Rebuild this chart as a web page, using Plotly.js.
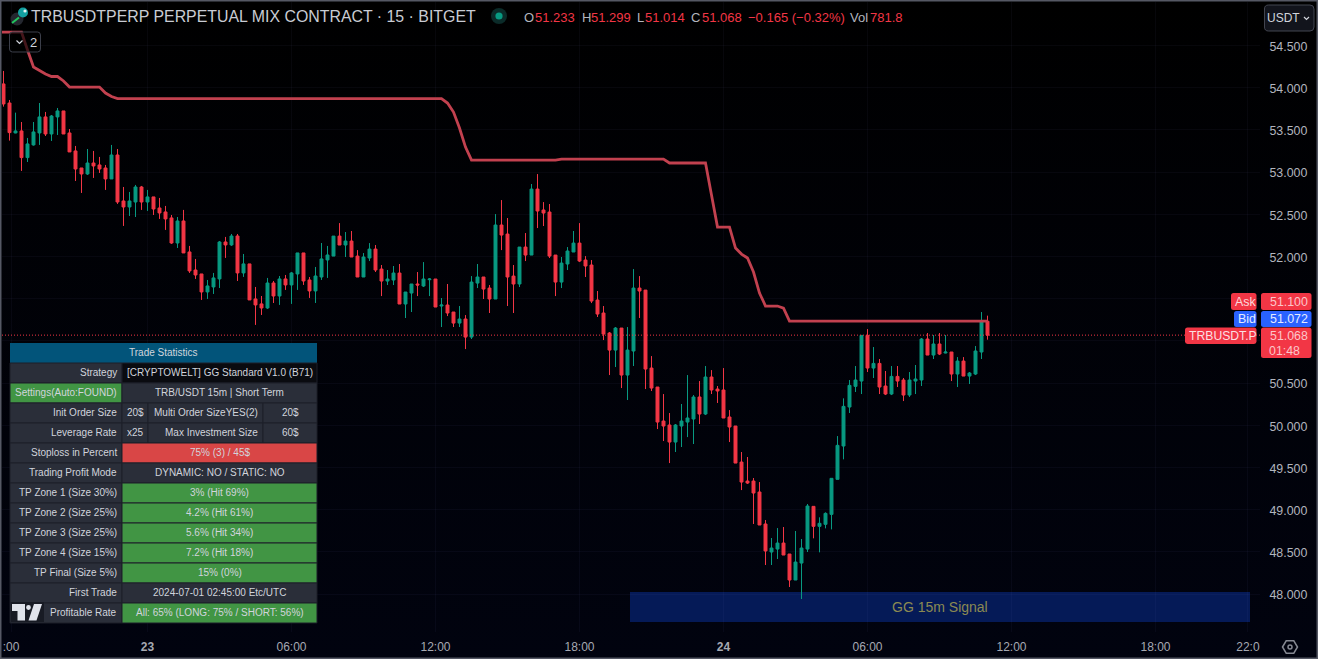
<!DOCTYPE html>
<html>
<head>
<meta charset="utf-8">
<title>TRBUSDTPERP 15m</title>
<script src="https://cdn.plot.ly/plotly-3.0.1.min.js"></script>
<style>
html,body{margin:0;padding:0;width:1318px;height:659px;overflow:hidden;background:linear-gradient(#000000,#01030f);}
#chart{width:1318px;height:659px;}
</style>
</head>
<body>
<div id="chart"></div>
<script>
// ---- candle values (15 minute bars, oldest first) ----
const opens = [54.045,53.819,53.464,53.488,53.172,53.322,53.464,53.654,53.452,53.654,53.725,53.464,53.251,53.049,52.978,53.108,53.085,53.049,52.919,53.203,
52.658,52.587,52.646,52.824,52.646,52.706,52.575,52.528,52.457,52.160,52.421,52.054,51.840,51.793,51.580,51.639,51.734,52.172,52.137,52.243,
51.805,51.912,51.497,51.438,51.390,51.686,51.532,51.734,51.663,51.793,52.042,51.722,51.592,51.757,51.959,52.005,52.242,52.136,52.183,52.005,
51.757,51.982,52.088,51.851,51.709,51.721,51.804,51.437,51.567,51.674,51.650,51.725,51.733,51.413,51.425,51.342,51.211,51.259,51.045,51.685,
51.757,51.626,51.496,52.373,52.266,51.768,51.674,52.112,52.017,52.799,52.551,52.527,52.017,51.697,51.911,52.053,52.159,51.958,51.899,51.484,
51.330,51.093,50.891,51.152,50.595,50.880,51.626,51.602,50.678,50.453,50.050,50.003,49.801,49.991,50.038,50.074,50.335,50.133,50.572,50.429,
50.418,50.098,49.991,49.564,49.339,49.339,49.209,48.830,48.498,48.533,48.604,48.474,48.166,48.367,48.533,49.039,48.802,48.826,48.944,49.359,
49.754,50.216,50.461,50.524,51.065,50.678,50.733,50.465,50.370,50.579,50.536,50.358,50.524,50.536,51.022,50.832,50.963,50.856,50.868,50.607,
50.761,50.583,50.607,50.868,51.233];
const highs = [54.199,53.855,53.705,53.594,53.405,53.594,53.819,53.713,53.677,53.760,53.725,53.511,53.310,53.049,53.274,53.251,53.180,53.085,53.322,53.274,
52.824,52.765,52.848,52.836,52.789,52.706,52.694,52.599,52.492,52.468,52.552,52.125,51.971,51.793,51.722,51.805,52.184,52.232,52.267,52.267,
52.030,51.912,51.639,51.532,51.746,51.710,51.769,51.781,51.817,52.042,52.042,51.757,51.876,52.160,52.125,52.242,52.396,52.290,52.302,52.076,
52.041,52.159,52.136,51.899,51.840,51.887,51.911,51.579,51.674,51.816,51.934,51.745,51.733,51.508,51.674,51.342,51.413,51.306,51.768,51.911,
51.757,51.662,52.503,52.669,52.456,51.899,52.112,52.278,52.859,52.977,52.645,52.622,52.017,51.994,52.112,52.302,52.396,52.005,51.958,51.591,
51.413,51.105,51.164,51.152,51.164,51.851,51.768,51.602,50.820,50.453,50.370,50.145,50.015,50.252,50.595,50.358,50.524,50.702,50.654,50.465,
50.678,50.180,49.991,49.683,49.624,49.375,49.327,48.877,48.664,48.782,48.794,48.474,48.747,48.652,49.067,49.039,48.909,48.968,49.371,49.872,
50.319,50.536,50.702,51.065,51.140,50.927,50.785,50.643,50.702,50.702,50.560,50.631,50.714,51.034,51.093,51.069,51.093,51.069,50.868,50.808,
50.808,50.631,50.939,51.342,51.299];
const lows = [53.776,53.373,53.460,53.014,53.120,53.314,53.322,53.428,53.369,53.440,53.452,53.239,52.895,52.753,52.966,52.931,52.990,52.789,52.919,52.623,
52.362,52.480,52.468,52.552,52.540,52.492,52.445,52.315,52.149,52.101,52.042,51.805,51.734,51.485,51.497,51.556,51.627,51.983,52.125,51.710,
51.758,51.485,51.189,51.307,51.378,51.449,51.426,51.604,51.438,51.604,51.663,51.509,51.449,51.722,51.746,52.005,52.136,51.994,51.994,51.757,
51.757,51.946,51.816,51.531,51.662,51.662,51.437,51.271,51.342,51.531,51.638,51.531,51.401,51.164,51.294,51.164,51.164,50.903,51.022,51.626,
51.496,51.330,51.496,52.076,51.413,51.330,51.638,51.946,52.017,52.337,52.361,51.982,51.531,51.626,51.840,52.053,51.934,51.757,51.448,51.283,
51.010,50.595,50.690,50.441,50.299,50.702,51.271,50.429,50.406,49.955,49.813,49.552,49.683,49.742,49.860,49.778,50.015,50.121,50.370,50.264,
50.086,49.801,49.552,49.232,49.304,48.830,48.818,48.344,48.344,48.415,48.462,48.083,48.166,47.941,48.498,48.660,48.494,48.778,48.766,49.359,
49.596,50.145,50.394,50.370,50.631,50.560,50.370,50.358,50.358,50.453,50.287,50.335,50.370,50.465,50.832,50.785,50.832,50.852,50.524,50.453,
50.583,50.489,50.595,50.785,51.014];
const closes = [53.808,53.468,53.488,53.172,53.334,53.476,53.654,53.452,53.665,53.725,53.452,53.239,53.037,52.978,53.108,53.073,53.037,52.919,53.203,52.646,
52.587,52.658,52.824,52.646,52.706,52.563,52.516,52.445,52.160,52.421,52.042,51.829,51.781,51.580,51.651,51.746,52.172,52.137,52.243,51.805,
51.912,51.485,51.426,51.390,51.686,51.532,51.734,51.663,51.805,52.042,51.710,51.592,51.769,51.971,52.018,52.242,52.136,52.183,51.994,51.757,
51.994,52.088,51.840,51.709,51.733,51.804,51.437,51.579,51.674,51.662,51.733,51.733,51.401,51.425,51.330,51.211,51.259,51.045,51.697,51.757,
51.614,51.496,52.373,52.254,51.757,51.674,52.112,52.017,52.799,52.539,52.515,52.005,51.697,51.922,52.065,52.159,51.946,51.887,51.472,51.318,
51.081,50.891,51.152,50.595,50.891,51.626,51.591,50.666,50.441,50.038,49.991,49.801,50.003,50.050,50.086,50.335,50.133,50.572,50.418,50.406,
50.086,49.979,49.552,49.327,49.315,49.197,48.818,48.510,48.545,48.604,48.462,48.166,48.379,48.545,49.043,48.802,48.838,48.956,49.371,49.762,
50.224,50.473,50.536,51.065,50.678,50.733,50.453,50.370,50.579,50.524,50.358,50.536,50.548,51.022,50.832,50.963,50.844,50.868,50.607,50.761,
50.583,50.619,50.880,51.233,51.068];

// ---- trailing line: bar number and value ----
const stopBars = [-1,3,4,5,7,8,9,10,11,16,17,18,19,73,74,75,76,77,78,92,93,110,111,117,118,119,121,122,123,124,125,126,127,129,130,131,164];
const stopValues = [54.660,54.660,54.447,54.245,54.163,54.133,54.133,54.080,54.008,54.008,53.937,53.896,53.872,53.872,53.819,53.712,53.523,53.297,53.143,53.143,53.155,53.155,53.108,53.108,52.729,52.349,52.349,52.100,52.029,51.982,51.816,51.567,51.413,51.413,51.389,51.235,51.235];

// ---- axis ticks ----
const priceTicks = [48,48.5,49,49.5,50,50.5,51,51.5,52,52.5,53,53.5,54,54.5];
const priceTickText = ['48.000','48.500','49.000','49.500','50.000','50.500','','','52.000','52.500','53.000','53.500','54.000','54.500'];
const timeTicks = ['2024-07-22 18:18:45','2024-07-23 00:00','2024-07-23 06:00','2024-07-23 12:00','2024-07-23 18:00','2024-07-24 00:00','2024-07-24 06:00','2024-07-24 12:00','2024-07-24 18:00','2024-07-24 21:51:00'];
const timeTickText = [':00','<b>23</b>','06:00','12:00','18:00','<b>24</b>','06:00','12:00','18:00','22:0'];

// ---- header and table text ----
const titleText = 'TRBUSDTPERP PERPETUAL MIX CONTRACT · 15 · BITGET';
const askPrice = '51.100', bidPrice = '51.072', lastPrice = '51.068', countdown = '01:48', symbolTag = 'TRBUSDT.P';
const signalText = 'GG 15m Signal';
const legendItems = [['O',524],['51.233',535],['H',581.5],['51.299',591],['L',637],['51.014',645],['C',691],['51.068',702],['−0.165 (−0.32%)',748],['Vol',850],['781.8',870]];
const statRows = [
  {label:'Trade Statistics', header:true},
  {label:'Strategy', value:'[CRYPTOWELT] GG Standard V1.0 (B71)', fill:'#0a0b10'},
  {label:'Settings(Auto:FOUND)', labelFill:'#419544', value:'TRB/USDT 15m | Short Term'},
  {label:'Init Order Size', parts:['20$','Multi Order SizeYES(2)','20$']},
  {label:'Leverage Rate', parts:['x25','Max Investment Size','60$']},
  {label:'Stoploss in Percent', value:'75% (3) / 45$', fill:'#d94646'},
  {label:'Trading Profit Mode', value:'DYNAMIC: NO / STATIC: NO'},
  {label:'TP Zone 1 (Size 30%)', value:'3% (Hit 69%)', fill:'#419544'},
  {label:'TP Zone 2 (Size 25%)', value:'4.2% (Hit 61%)', fill:'#419544'},
  {label:'TP Zone 3 (Size 25%)', value:'5.6% (Hit 34%)', fill:'#419544'},
  {label:'TP Zone 4 (Size 15%)', value:'7.2% (Hit 18%)', fill:'#419544'},
  {label:'TP Final (Size 5%)', value:'15% (0%)', fill:'#419544'},
  {label:'First Trade', value:'2024-07-01 02:45:00 Etc/UTC'},
  {label:'Profitable Rate', value:'All: 65% (LONG: 75% / SHORT: 56%)', fill:'#419544'}
];

// ---- library setup ----
const FONT = '"Liberation Sans", Arial, sans-serif';
const RED = '#f23645', GREEN = '#089981';
const L = 2, R = 1260, T = 2, B = 632;
const px = x => (x - L) / (R - L);
const py = y => 1 - (y - T) / (B - T);
const timeAt = i => new Date(Date.UTC(2024, 6, 22, 18, 15 * i)).toISOString().slice(0, 19).replace('T', ' ');
const times = opens.map((_, i) => timeAt(i));

const shapes = [], annotations = [];
function rect(x0, y0, x1, y1, fill, line, lw, layer) {
  shapes.push({type:'rect', xref:'paper', yref:'paper', x0:px(x0), x1:px(x1), y0:py(y0), y1:py(y1),
    fillcolor:fill, line:{color:line || 'rgba(0,0,0,0)', width:lw === undefined ? 0 : lw}, layer:layer || 'above'});
}
function round(x0, y0, x1, y1, r, fill, line, lw) {
  const P = (x, y) => px(x).toFixed(6) + ',' + py(y).toFixed(6);
  const d = 'M' + P(x0 + r, y0) + ' L' + P(x1 - r, y0) + ' Q' + P(x1, y0) + ' ' + P(x1, y0 + r) +
    ' L' + P(x1, y1 - r) + ' Q' + P(x1, y1) + ' ' + P(x1 - r, y1) +
    ' L' + P(x0 + r, y1) + ' Q' + P(x0, y1) + ' ' + P(x0, y1 - r) +
    ' L' + P(x0, y0 + r) + ' Q' + P(x0, y0) + ' ' + P(x0 + r, y0) + ' Z';
  shapes.push({type:'path', xref:'paper', yref:'paper', path:d, fillcolor:fill, line:{color:line || 'rgba(0,0,0,0)', width:lw || 0}, layer:'above'});
}
function poly(pts, fill, line, lw, close) {
  const d = pts.map((p, i) => (i ? 'L' : 'M') + px(p[0]).toFixed(6) + ',' + py(p[1]).toFixed(6)).join(' ') + (close ? ' Z' : '');
  shapes.push({type:'path', xref:'paper', yref:'paper', path:d, fillcolor:fill || 'rgba(0,0,0,0)', line:{color:line || 'rgba(0,0,0,0)', width:lw || 0}, layer:'above'});
}
function circle(cx, cy, r, fill, line, lw) {
  shapes.push({type:'circle', xref:'paper', yref:'paper', x0:px(cx - r), x1:px(cx + r), y0:py(cy + r), y1:py(cy - r),
    fillcolor:fill, line:{color:line || 'rgba(0,0,0,0)', width:lw || 0}, layer:'above'});
}
function text(x, y, str, size, color, anchor) {
  annotations.push({xref:'paper', yref:'paper', x:px(x), y:py(y), text:str, showarrow:false, xanchor:anchor || 'center', yanchor:'middle',
    borderpad:0, borderwidth:0, font:{family:FONT, size:size, color:color}});
}

// signal box sits under the candles
rect(630, 592, 1250, 622, '#051a57', null, 0, 'below');
text(940, 607, signalText, 14, '#8b8a52');

// last price dotted line
shapes.push({type:'line', xref:'paper', yref:'y', x0:0, x1:1, y0:closes[closes.length - 1], y1:closes[closes.length - 1],
  line:{color:RED, width:1, dash:'1px,2px'}, layer:'above'});

// table
const TX0 = 10, TX1 = 122, TX2 = 148, TX3 = 263, TX4 = 317, TY = 343, RH = 20;
const GREY = '#2a2e39', EDGE = '#1c1f29', TXT = '#d1d4dc';
statRows.forEach((r, i) => {
  const y0 = TY + i * RH, y1 = y0 + RH, cy = y0 + 9.5;
  if (r.header) {
    rect(TX0, y0, TX4, y1, '#02547a');
    text((TX0 + TX4) / 2, cy, r.label, 10, TXT);
    return;
  }
  rect(TX0, y0, TX1, y1, r.labelFill || GREY, EDGE, 1);
  text(TX1 - 5, cy, r.label, 10, TXT, 'right');
  if (r.parts) {
    rect(TX1, y0, TX2, y1, GREY, EDGE, 1);
    rect(TX2, y0, TX3, y1, GREY, EDGE, 1);
    rect(TX3, y0, TX4, y1, GREY, EDGE, 1);
    text((TX1 + TX2) / 2, cy, r.parts[0], 10, TXT);
    text(TX3 - 5, cy, r.parts[1], 10, TXT, 'right');
    text((TX3 + TX4) / 2, cy, r.parts[2], 10, TXT);
  } else {
    rect(TX1, y0, TX4, y1, r.fill || GREY, EDGE, 1);
    text((TX1 + TX4) / 2, cy, r.value, 10, TXT);
  }
});

// TradingView mark
rect(11, 602, 44, 622, '#181b24');
poly([[12,604],[25,604],[25,620.5],[17.5,620.5],[17.5,611],[12,611]], '#e0e3eb', null, 0, true);
circle(28.5, 607.5, 2.4, '#e0e3eb');
poly([[34,604],[42,604],[36.5,620.5],[28.5,620.5]], '#e0e3eb', null, 0, true);

// header
circle(17, 19, 6.5, '#24272f');
circle(23, 12.5, 5, '#13a0a0');
circle(25, 11, 1.6, '#e8f5f5');
poly([[12,23],[19,17.5]], null, '#22c55e', 2);
circle(499, 16, 8, '#0b2b29');
circle(499, 16, 3.6, GREEN);
const legendRed = '#f23645', legendGrey = '#b2b5be';
legendItems.forEach(it => text(it[1], 17, it[0], 13, /^[A-Za-z]+$/.test(it[0]) ? legendGrey : legendRed, 'left'));

// collapse button
round(9.5, 32, 40.5, 52, 3, 'rgba(0,0,0,0.65)', '#3c3f4a', 1);
poly([[16.5,40.5],[19.5,43.5],[22.5,40.5]], null, '#d1d4dc', 1.2);
text(33, 42, '2', 13, '#d1d4dc');

// currency button
round(1264.5, 5, 1314, 31, 4, '#12141c', '#434651', 1);
text(1283.5, 18, 'USDT', 12, '#d1d4dc');
poly([[1304,17],[1306.5,19.5],[1309,17]], null, '#d1d4dc', 1.2);

// price tags
round(1231, 293, 1256.5, 310, 2.5, RED);
text(1245.5, 302, 'Ask', 12.4, '#fbd9dc');
round(1261, 293, 1311.5, 310, 2.5, RED);
text(1288.5, 302, askPrice, 12.4, '#fcc6ca');
round(1234, 311, 1256.5, 327, 2.5, '#2962ff');
text(1247, 319, 'Bid', 12.4, '#e4eaff');
round(1261, 311, 1311.5, 327, 2.5, '#2962ff');
text(1288.5, 319, bidPrice, 12.4, '#e4eaff');
round(1185, 327.5, 1256.5, 344, 2.5, RED);
text(1223, 336, symbolTag, 12.2, '#fcdfe1');
round(1261, 327.5, 1311.5, 358, 2.5, RED);
text(1288.5, 336, lastPrice, 12.4, '#fcc6ca');
text(1284.5, 350.5, countdown, 12.4, '#fcc6ca');

// settings gear
poly([[1282.5,647],[1286.2,640.8],[1293.8,640.8],[1297.5,647],[1293.8,653.2],[1286.2,653.2]], null, '#868993', 1.5, true);
circle(1290, 647, 2, 'rgba(0,0,0,0)', '#868993', 1.5);

// frame
rect(0.75, 0.75, 1317.25, 658.25, 'rgba(0,0,0,0)', '#555864', 1.5);

const traces = [
  {type:'candlestick', x:times, open:opens, high:highs, low:lows, close:closes, width:600000,
   whiskerwidth:0, hoverinfo:'skip',
   increasing:{line:{color:GREEN, width:1}, fillcolor:GREEN},
   decreasing:{line:{color:RED, width:1}, fillcolor:RED}},
  {type:'scatter', mode:'lines', x:stopBars.map(timeAt), y:stopValues, hoverinfo:'skip',
   line:{color:'#c2414f', width:2.8, shape:'linear'}}
];

const GRID = 'rgba(120,130,200,0.055)';
const layout = {
  width:1318, height:659,
  margin:{l:L, r:1318 - R, t:T, b:659 - B, pad:0},
  paper_bgcolor:'rgba(0,0,0,0)', plot_bgcolor:'rgba(0,0,0,0)',
  showlegend:false, dragmode:false,
  title:{text:titleText, x:31 / 1318, xanchor:'left', y:1 - 16.5 / 659, yanchor:'middle', font:{family:FONT, size:15.9, color:'#c9ccd4'}},
  xaxis:{type:'date', range:['2024-07-22 17:56:15','2024-07-24 22:21:15'], rangeslider:{visible:false},
    tickmode:'array', tickvals:timeTicks, ticktext:timeTickText, tickangle:0,
    ticks:'outside', ticklen:4, tickcolor:'rgba(0,0,0,0)', tickfont:{family:FONT, size:12, color:'#a6a9b2'},
    showgrid:true, gridcolor:GRID, gridwidth:1, zeroline:false, showline:false, fixedrange:true},
  yaxis:{side:'right', range:[47.550, 55.016], tickmode:'array', tickvals:priceTicks, ticktext:priceTickText,
    ticks:'outside', ticklen:6, tickcolor:'rgba(0,0,0,0)', tickfont:{family:FONT, size:12.4, color:'#b2b5be'},
    ticklabelshift:1,
    showgrid:true, gridcolor:GRID, gridwidth:1, zeroline:false, showline:false, fixedrange:true},
  shapes:shapes, annotations:annotations
};
Plotly.newPlot('chart', traces, layout, {displayModeBar:false, staticPlot:true});
</script>
</body>
</html>
